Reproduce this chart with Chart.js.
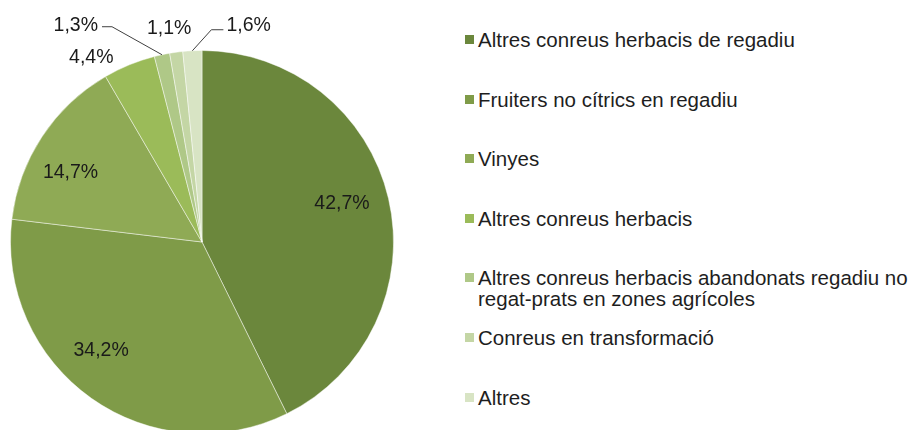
<!DOCTYPE html>
<html>
<head>
<meta charset="utf-8">
<script src="https://cdn.jsdelivr.net/npm/chart.js@4"></script>
<style>
  html, body { margin: 0; padding: 0; background: #fff; }
  body { width: 921px; height: 430px; overflow: hidden; position: relative; font-family: "Liberation Sans", Arial, sans-serif; }
  #pieWrap { position: absolute; left: 0; top: 0; width: 414px; height: 484px; }
  #legend { position: absolute; left: 465px; top: 0; width: 452px; }
  .lg-item { position: absolute; left: 0; width: 452px; font-size: 20.5px; line-height: 21px; color: #1e1e1e; padding-left: 13px; box-sizing: border-box; }
  .lg-item .sw { position: absolute; left: 0; top: 6px; width: 9px; height: 9px; }
</style>
</head>
<body>
<div id="pieWrap"><canvas id="chart" width="414" height="484"></canvas></div>
<div id="legend"></div>
<script>
(function () {
  "use strict";

  const categories = [
    "Altres conreus herbacis de regadiu",
    "Fruiters no cítrics en regadiu",
    "Vinyes",
    "Altres conreus herbacis",
    "Altres conreus herbacis abandonats regadiu no regat-prats en zones agrícoles",
    "Conreus en transformació",
    "Altres"
  ];
  const shares = [42.7, 34.2, 14.7, 4.4, 1.3, 1.1, 1.6];
  const sliceColors = ["#6B873C", "#7F9B48", "#8FAA55", "#9BBB59", "#AFC887", "#C4D6A5", "#D8E4C4"];

  // where each percentage label sits, relative to its slice
  const labelPlacement = [
    { r: 0.74, dx: 2, dy: -6 },
    { r: 0.74, dx: -19, dy: -7 },
    { r: 0.74, dx: -13, dy: 8 },
    { r: 1, dx: -38, dy: -7 },
    { r: 1, leader: { ex: -50, ey: -28, len: -10 }, align: "right" },
    { r: 1, dx: -7, dy: -24 },
    { r: 1, leader: { ex: 19, ey: -21, len: 12 }, align: "left" }
  ];

  const fmt = (v) => v.toFixed(1).replace(".", ",") + "%";

  /* ---------- Percentage labels ---------- */
  const pieLabels = {
    id: "pieLabels",
    afterDatasetsDraw(chart) {
      const ctx = chart.ctx;
      const arcs = chart.getDatasetMeta(0).data;
      ctx.save();
      ctx.font = "19.5px 'Liberation Sans', Arial, sans-serif";
      ctx.fillStyle = "#1a1a1a";
      ctx.strokeStyle = "#404040";
      ctx.lineWidth = 1;
      ctx.textBaseline = "middle";
      arcs.forEach((arc, i) => {
        const p = labelPlacement[i];
        const mid = (arc.startAngle + arc.endAngle) / 2;
        const R = arc.outerRadius * p.r;
        const px = arc.x + Math.cos(mid) * R;
        const py = arc.y + Math.sin(mid) * R;
        const text = fmt(shares[i]);
        if (p.leader) {
          const ex = px + p.leader.ex, ey = py + p.leader.ey;
          const endX = ex + p.leader.len;
          ctx.beginPath();
          ctx.moveTo(px, py);
          ctx.lineTo(ex, ey);
          ctx.lineTo(endX, ey);
          ctx.stroke();
          ctx.textAlign = p.align;
          const tx = p.align === "right" ? endX - 4 : endX + 3;
          ctx.fillText(text, tx, ey - (p.align === "right" ? 1 : 4));
        } else {
          ctx.textAlign = "center";
          ctx.fillText(text, px + p.dx, py + p.dy);
        }
      });
      ctx.restore();
    }
  };

  new Chart(document.getElementById("chart"), {
    type: "pie",
    data: {
      labels: categories,
      datasets: [{
        data: shares,
        backgroundColor: sliceColors,
        borderColor: "rgba(255,255,255,0.45)",
        borderWidth: 1
      }]
    },
    options: {
      responsive: false,
      animation: false,
      layout: { padding: { left: 10, right: 20, top: 50, bottom: 50 } },
      plugins: { legend: { display: false }, tooltip: { enabled: false } }
    },
    plugins: [pieLabels]
  });

  /* ---------- Legend ---------- */
  const legendTop = 29;
  const legendStep = 59.6;
  document.getElementById("legend").innerHTML = categories.map((c, i) =>
    `<div class="lg-item" style="top:${(legendTop + i * legendStep).toFixed(1)}px"><span class="sw" style="background:${sliceColors[i]}"></span>${c}</div>`
  ).join("");
})();
</script>
</body>
</html>
